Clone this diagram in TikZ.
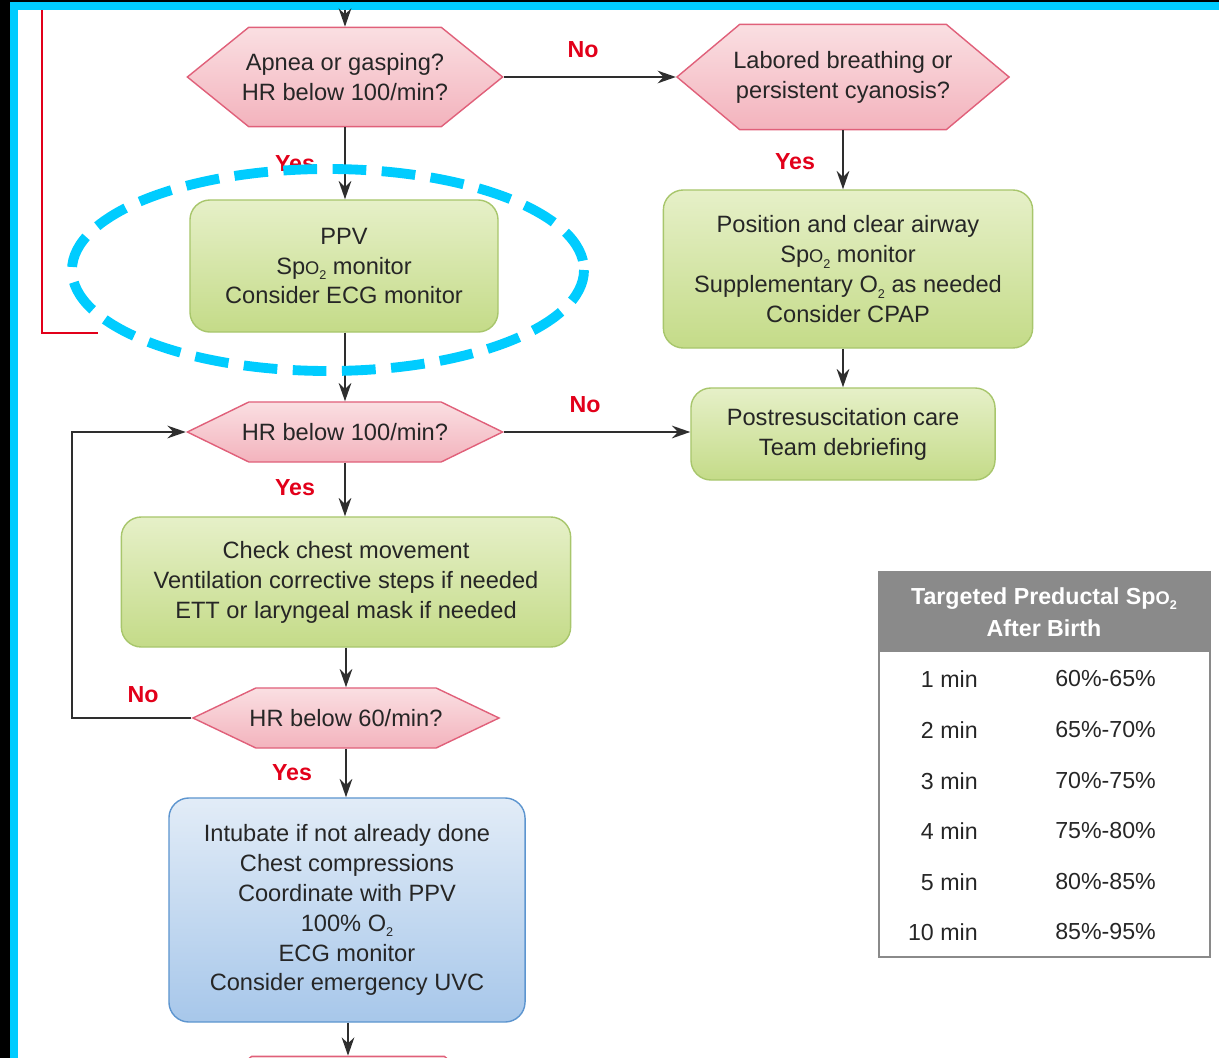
\documentclass[tikz,border=0pt]{standalone}
\usepackage{fontspec}
\setmainfont{Liberation Sans}
\usetikzlibrary{shapes}
\usetikzlibrary{arrows.meta}
\usetikzlibrary{positioning}

\definecolor{hexline}{HTML}{E0607A}
\definecolor{hextop}{HTML}{FADFE2}
\definecolor{hexbot}{HTML}{F3B3BD}
\definecolor{grline}{HTML}{A8C66C}
\definecolor{grtop}{HTML}{E6F0C8}
\definecolor{grbot}{HTML}{C4DB88}
\definecolor{blline}{HTML}{5D95CF}
\definecolor{bltop}{HTML}{E2ECF7}
\definecolor{blbot}{HTML}{A7C7EA}
\definecolor{labelred}{HTML}{E2001A}
\definecolor{arrowgray}{HTML}{2E2E2E}
\definecolor{framecyan}{HTML}{00CCFF}
\definecolor{tablegray}{HTML}{8A8A8A}

\newcommand{\subtwo}{\raisebox{-0.45ex}{\fontsize{9}{9}\selectfont 2}}
\newcommand{\spotwo}{Sp{\fontsize{13}{13}\selectfont O}\subtwo}

\tikzset{
    txt/.style={font=\fontsize{16.8}{21.3}\selectfont, align=center, text=black!85},
    hexa/.style={txt, shape=signal, signal to=west and east, draw=hexline,
        line width=1pt, top color=hextop, bottom color=hexbot,
        inner xsep=-0.25cm, inner ysep=0pt},
    greenbox/.style={txt, rectangle, rounded corners=0.5cm, draw=grline,
        line width=1pt, top color=grtop, bottom color=grbot},
    bluebox/.style={txt, rectangle, rounded corners=0.5cm, draw=blline,
        line width=1pt, top color=bltop, bottom color=blbot},
    yesno/.style={text=labelred, font=\fontsize{16.5}{20}\selectfont\bfseries},
    flow/.style={draw=arrowgray, line width=1.4pt, -{Stealth[length=13pt,width=9pt]}},
    tabtxt/.style={font=\fontsize{16.5}{20}\selectfont, text=black!85, inner sep=0pt},
}

\begin{document}
\begin{tikzpicture}[x=0.025cm, y=-0.025cm]
        \useasboundingbox (0,0) rectangle (1219,1058);

        % frame
        \fill[black] (0,0) rectangle (10,1058);
        \fill[black] (0,0) rectangle (1219,2);
        \fill[framecyan] (10,2) rectangle (18,1058);
        \fill[framecyan] (10,2) rectangle (1219,10);

        % red line from above
        \coordinate (redtop) at (42,10);
        \coordinate (redend) at (98,333);
        \draw[labelred, line width=1.5pt] (redtop) |- (redend);

        % left column
        \coordinate (top) at (345,10);
        \node[hexa, minimum width=7.88cm, minimum height=2.48cm, signal pointer angle=78]
            (apnea) at (345,77) {Apnea or gasping?\\HR below 100/min?};
        \node[greenbox, minimum width=7.7cm, minimum height=3.3cm]
            (ppv) at (344,266) {PPV\\\spotwo{} monitor\\Consider ECG monitor};
        \node[hexa, minimum width=7.88cm, minimum height=1.5cm, signal pointer angle=52]
            (hr100) at (345,432) {HR below 100/min?};
        \node[greenbox, minimum width=11.23cm, minimum height=3.25cm]
            (check) at (346,582) {Check chest movement\\Ventilation corrective steps if needed\\ETT or laryngeal mask if needed};
        \node[hexa, minimum width=7.65cm, minimum height=1.5cm, signal pointer angle=51]
            (hr60) at (346,718) {HR below 60/min?};
        \node[bluebox, minimum width=8.9cm, minimum height=5.6cm]
            (compress) at (347,910) {Intubate if not already done\\Chest compressions\\Coordinate with PPV\\100\% O\subtwo\\ECG monitor\\Consider emergency UVC};
        \node[hexa, minimum width=7.88cm, minimum height=2.48cm, signal pointer angle=78]
            (next) at (348,1106) {};

        % right column
        \node[hexa, minimum width=8.3cm, minimum height=2.63cm, signal pointer angle=80]
            (labored) at (843,77) {Labored breathing or\\persistent cyanosis?};
        \node[greenbox, minimum width=9.23cm, minimum height=3.95cm]
            (airway) at (848,269) {Position and clear airway\\\spotwo{} monitor\\Supplementary O\subtwo{} as needed\\Consider CPAP};
        \node[greenbox, minimum width=7.6cm, minimum height=2.3cm]
            (post) at (843,434) {Postresuscitation care\\Team debriefing};

        % arrows
        \coordinate (loopx) at (72,0);
        \draw[flow] (top) -- (apnea.north);
        \draw[flow] (apnea.east) -- (labored.west);
        \draw[flow] (apnea.south) -- (ppv.north -| apnea.south);
        \draw[flow] (ppv.south -| hr100.north) -- (hr100.north);
        \draw[flow] (labored.south) -- (airway.north -| labored.south);
        \draw[flow] (airway.south -| post.north) -- (post.north);
        \draw[flow] (hr100.east) -- (post.west |- hr100.east);
        \draw[flow] (hr100.south) -- (check.north -| hr100.south);
        \draw[flow] (check.south -| hr60.north) -- (hr60.north);
        \draw[flow] (hr60.west) -- (hr60.west -| loopx) |- (hr100.west);
        \draw[flow] (hr60.south) -- (compress.north -| hr60.south);
        \draw[flow] (compress.south -| next.north) -- (next.north);

        % labels
        \node[yesno] (no1) at (583,50) {No};
        \node[yesno] (yes1) at (295,164) {Yes};
        \node[yesno] (yes2) at (795,162) {Yes};
        \node[yesno] (no2) at (585,405) {No};
        \node[yesno] (yes3) at (295,488) {Yes};
        \node[yesno] (no3) at (143,695) {No};
        \node[yesno] (yes4) at (292,773) {Yes};

        % highlight ring
        \draw[framecyan, line width=7pt, dash pattern=on 24pt off 11pt]
            (328,270) ellipse [x radius=256, y radius=101];

        % table
        \fill[tablegray] (879,571) rectangle (1210,652);
        \draw[tablegray, line width=1.2pt] (879,571) -- (879,957) -- (1210,957) -- (1210,571);
        \node[tabtxt, text=white, font=\fontsize{16.5}{22.8}\selectfont\bfseries, align=center]
            (tabhead) at (1044,612) {Targeted Preductal \spotwo\\After Birth};
        \node[tabtxt, anchor=east] (t1) at (978,679) {1 min};
        \node[tabtxt, anchor=west] (v1) at (1055,679) {60\%-65\%};
        \node[tabtxt, anchor=east] (t2) at (978,730) {2 min};
        \node[tabtxt, anchor=west] (v2) at (1055,730) {65\%-70\%};
        \node[tabtxt, anchor=east] (t3) at (978,781) {3 min};
        \node[tabtxt, anchor=west] (v3) at (1055,781) {70\%-75\%};
        \node[tabtxt, anchor=east] (t4) at (978,831) {4 min};
        \node[tabtxt, anchor=west] (v4) at (1055,831) {75\%-80\%};
        \node[tabtxt, anchor=east] (t5) at (978,882) {5 min};
        \node[tabtxt, anchor=west] (v5) at (1055,882) {80\%-85\%};
        \node[tabtxt, anchor=east] (t6) at (978,932) {10 min};
        \node[tabtxt, anchor=west] (v6) at (1055,932) {85\%-95\%};
    \end{tikzpicture}
\end{document}
